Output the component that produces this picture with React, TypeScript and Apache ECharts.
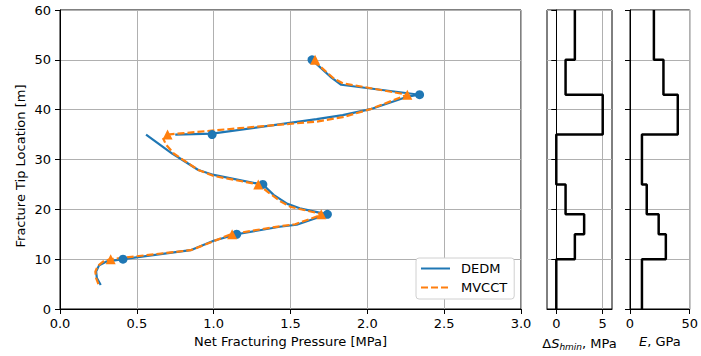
import React, { useEffect, useRef } from "react";
import * as echarts from "echarts";

// ---- Data ----
// Net fracturing pressure (MPa) vs fracture tip location (m); null separates segments
const dedmLineP = [0.265, 0.24, 0.235, 0.255, 0.3, 0.41, 0.85, 1.0, 1.15, 1.43, 1.54, 1.74, 1.56, 1.48, 1.39, 1.32, 1.28, 1.0, 0.9, 0.73, 0.56, null, 0.75, 0.99, 1.67, 1.84, 2.02, 2.26, 2.34, 1.83, 1.76, 1.64];
const dedmLineY = [4.8, 6.2, 7.5, 8.8, 9.5, 10, 11.8, 13.7, 15, 16.5, 16.9, 19, 20.2, 21.1, 22.9, 25, 25.2, 26.9, 27.9, 31.2, 35, null, 35, 35.2, 38.1, 38.9, 40.1, 42.6, 43, 45, 46.6, 50];
const mvcctLineP = [0.25, 0.235, 0.23, 0.245, 0.28, 0.33, 0.85, 1.0, 1.11, 1.43, 1.53, 1.71, 1.5, 1.44, 1.36, 1.29, 1.0, 0.9, 0.74, 0.69, 0.67, null, 0.7, 1.17, 1.67, 1.84, 2.02, 2.26, 1.84, 1.78, 1.66];
const mvcctLineY = [5.0, 6.2, 7.5, 8.6, 9.5, 10, 11.8, 13.6, 15, 16.6, 17.0, 19, 20.5, 21.5, 23.3, 25, 26.7, 27.9, 31.2, 33, 34.3, null, 35, 36.3, 37.6, 38.5, 40.1, 43, 45.3, 46.3, 49.6];

const markerDepths = [10, 15, 19, 25, 35, 43, 50];
const dedmMarkP = [0.41, 1.15, 1.74, 1.32, 0.99, 2.34, 1.64];
const mvcctMarkP = [0.33, 1.12, 1.7, 1.29, 0.7, 2.26, 1.66];

// Layer profiles: boundaries (m) and values per layer, bottom to top
const layerBounds = [0, 10, 15, 19, 25, 35, 43, 50, 60];
const dShmin = [0, 2, 3, 1, 0, 5, 1, 2];
const youngE = [10, 30, 24, 14, 10, 40, 28, 20];

const pressureTicks = [0, 0.5, 1.0, 1.5, 2.0, 2.5, 3.0];
const dShTicks = [0, 5];

const FONT = '"DejaVu Sans", sans-serif';
const BLUE = "#1f77b4";
const ORANGE = "#ff7f0e";
const GRIDC = "#b0b0b0";

function segments(px: (number | null)[], py: (number | null)[]) {
  const segs: number[][][] = [];
  let cur: number[][] = [];
  px.forEach((p, i) => {
    const y = py[i];
    if (p == null || y == null) {
      if (cur.length) segs.push(cur);
      cur = [];
    } else cur.push([p, y]);
  });
  if (cur.length) segs.push(cur);
  return segs;
}

function stepProfile(vals: number[]) {
  const pts: number[][] = [];
  vals.forEach((v, i) => {
    pts.push([v, layerBounds[i]]);
    pts.push([v, layerBounds[i + 1]]);
  });
  return pts;
}

export default function App() {
  const ref = useRef<HTMLDivElement>(null);
  useEffect(() => {
    if (!ref.current) return;
    const chart = echarts.init(ref.current, undefined, { renderer: "svg" });
    const axisLine = { show: true, lineStyle: { color: "#000", width: 1 } };
    const tick = { show: true, inside: false, length: 5, lineStyle: { color: "#000" } };
    const split = { show: true, lineStyle: { color: GRIDC, width: 1 } };
    const lbl = { fontFamily: FONT, fontSize: 13, color: "#000" };

    const yAxisBase = (gi: number, showLabel: boolean) => ({
      gridIndex: gi,
      type: "value",
      min: 0,
      max: 60,
      interval: 10,
      axisLine,
      axisTick: tick,
      splitLine: split,
      axisLabel: { ...lbl, show: showLabel, margin: 9 },
    });

    const series: any[] = [];
    segments(dedmLineP, dedmLineY).forEach((s) =>
      series.push({
        name: "DEDM",
        type: "line",
        xAxisIndex: 0,
        yAxisIndex: 0,
        data: s,
        symbol: "none",
        lineStyle: { color: BLUE, width: 2.2 },
        itemStyle: { color: BLUE },
        z: 2,
      })
    );
    segments(mvcctLineP, mvcctLineY).forEach((s) =>
      series.push({
        name: "MVCCT",
        type: "line",
        xAxisIndex: 0,
        yAxisIndex: 0,
        data: s,
        symbol: "none",
        lineStyle: { color: ORANGE, width: 2.2, type: [7, 3] },
        itemStyle: { color: ORANGE },
        z: 3,
      })
    );
    series.push({
      name: "DEDM pts",
      type: "scatter",
      xAxisIndex: 0,
      yAxisIndex: 0,
      data: dedmMarkP.map((p, i) => [p, markerDepths[i]]),
      symbol: "circle",
      symbolSize: 9,
      itemStyle: { color: BLUE, opacity: 1 },
      z: 4,
    });
    series.push({
      name: "MVCCT pts",
      type: "scatter",
      xAxisIndex: 0,
      yAxisIndex: 0,
      data: mvcctMarkP.map((p, i) => [p, markerDepths[i]]),
      symbol: "triangle",
      symbolSize: 10,
      itemStyle: { color: ORANGE, opacity: 1 },
      z: 5,
    });
    series.push({
      type: "line",
      xAxisIndex: 1,
      yAxisIndex: 1,
      data: stepProfile(dShmin),
      symbol: "none",
      lineStyle: { color: "#000", width: 2.5 },
      z: 3,
    });
    series.push({
      type: "line",
      xAxisIndex: 2,
      yAxisIndex: 2,
      data: stepProfile(youngE),
      symbol: "none",
      lineStyle: { color: "#000", width: 2.5 },
      z: 3,
    });

    const option: any = {
      animation: false,
      backgroundColor: "#fff",
      textStyle: { fontFamily: FONT },
      grid: [
        { left: 60, top: 10, width: 461, height: 299, show: true, borderColor: "#000", borderWidth: 1, backgroundColor: "transparent" },
        { left: 547, top: 10, width: 65, height: 299, show: true, borderColor: "#000", borderWidth: 1, backgroundColor: "transparent" },
        { left: 630, top: 10, width: 63, height: 299, show: true, borderColor: "#000", borderWidth: 1, backgroundColor: "transparent" },
      ],
      xAxis: [
        {
          gridIndex: 0,
          type: "value",
          min: pressureTicks[0],
          max: pressureTicks[pressureTicks.length - 1],
          interval: 0.5,
          axisLine,
          axisTick: tick,
          splitLine: split,
          axisLabel: { ...lbl, margin: 8, formatter: (v: number) => v.toFixed(1) },
          name: "Net Fracturing Pressure [MPa]",
          nameLocation: "middle",
          nameGap: 26,
          nameTextStyle: { ...lbl, verticalAlign: "top" },
        },
        {
          gridIndex: 1,
          type: "value",
          min: -1,
          max: 6,
          axisLine,
          axisTick: { ...tick, customValues: dShTicks },
          splitLine: split,
          axisLabel: { ...lbl, margin: 8, customValues: dShTicks },
          name: "{a|Δ}{b|S}{c|hmin}{a|, MPa}",
          nameLocation: "middle",
          nameGap: 26,
          nameTextStyle: {
            verticalAlign: "top",
            rich: {
              a: { ...lbl },
              b: { ...lbl, fontStyle: "italic" },
              c: { ...lbl, fontSize: 9, fontStyle: "italic", padding: [7, 0, 0, 0] },
            },
          },
        },
        {
          gridIndex: 2,
          type: "value",
          min: 0,
          max: 50,
          interval: 50,
          axisLine,
          axisTick: tick,
          splitLine: split,
          axisLabel: { ...lbl, margin: 8 },
          name: "{b|E}{a|, GPa}",
          nameLocation: "middle",
          nameGap: 26,
          nameTextStyle: {
            verticalAlign: "top",
            rich: {
              a: { ...lbl },
              b: { ...lbl, fontStyle: "italic" },
            },
          },
        },
      ],
      yAxis: [yAxisBase(0, true), yAxisBase(1, false), yAxisBase(2, false)],
      legend: {
        data: ["DEDM", "MVCCT"],
        orient: "vertical",
        left: 416,
        top: 258,
        itemWidth: 29,
        itemHeight: 14,
        itemGap: 6,
        padding: [4, 7, 5, 4],
        backgroundColor: "#fff",
        borderColor: "#d0d0d0",
        borderWidth: 1,
        borderRadius: 3,
        itemStyle: { opacity: 0 },
        textStyle: { ...lbl, padding: [0, 0, 0, 6] },
      },
      graphic: [
        {
          type: "text",
          x: 20,
          y: 166,
          rotation: Math.PI / 2,
          style: {
            text: "Fracture Tip Location [m]",
            fontFamily: FONT,
            fontSize: 13,
            fill: "#000",
            align: "center",
            verticalAlign: "middle",
          },
        },
      ],
      series,
    };
    chart.setOption(option);
    return () => chart.dispose();
  }, []);
  return (
    <div
      ref={ref}
      style={{ position: "fixed", left: 0, top: 0, width: 701, height: 356, background: "#fff" }}
    />
  );
}
